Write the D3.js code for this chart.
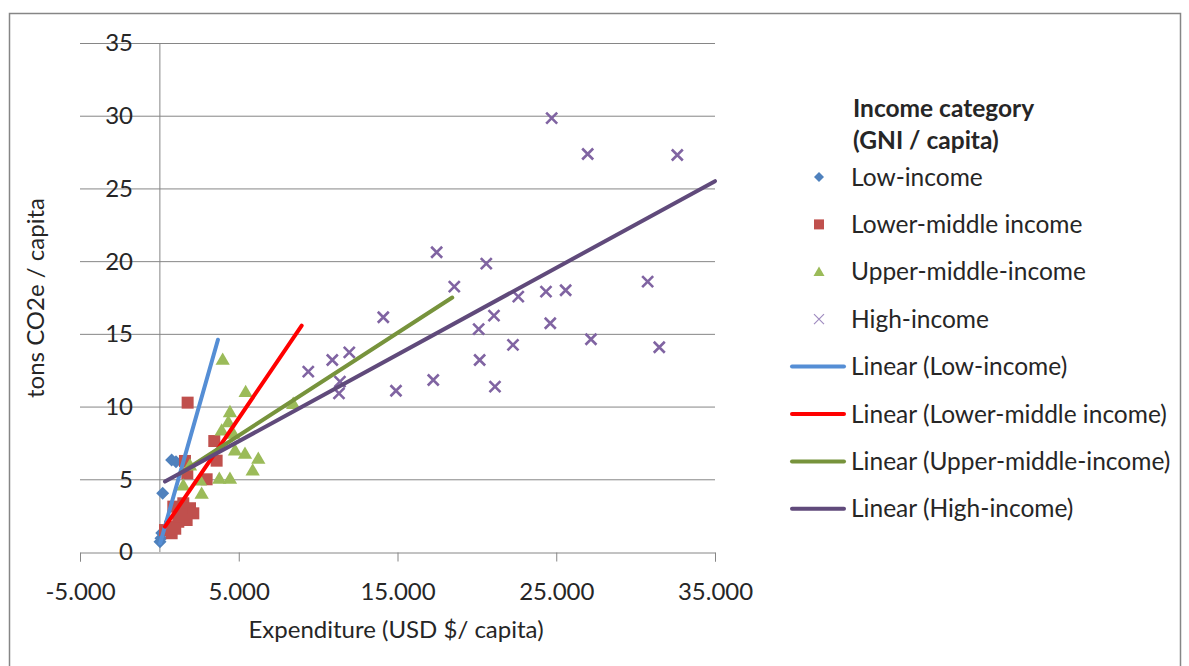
<!DOCTYPE html>
<html>
<head>
<meta charset="utf-8">
<script src="https://cdn.jsdelivr.net/npm/d3@7"></script>
<style>
  body { margin: 0; background: #fff; }
  text { font-family: Lato, "Open Sans", sans-serif; fill: #262626; }
</style>
</head>
<body>
<div class="canvas"></div>
<script>
// data: [expenditure USD/capita, tons CO2e/capita]
const lowIncome = [
    [773, 6.33], [1046, 6.21], [208, 4.04], [40, 0.7], [100, 0.95], [150, 1.3]
];
const lowerMiddle = [
    [1780, 10.27], [3459, 7.63], [3606, 6.28], [1612, 6.26], [1759, 5.41], [2977, 5.0],
    [878, 3.12], [1507, 3.35], [1928, 3.01], [2137, 2.66], [1717, 2.2], [1192, 2.08],
    [668, 1.74], [773, 1.29], [353, 1.51], [1300, 2.6], [1000, 1.6]
];
const upperMiddle = [
    [3987, 13.25], [5434, 11.03], [4447, 9.65], [4342, 8.96], [3924, 8.39], [4657, 8.16],
    [4762, 7.02], [5392, 6.79], [6230, 6.44], [5877, 5.64], [3774, 5.07], [4447, 5.07],
    [1507, 4.61], [2663, 4.04], [2558, 4.95], [1928, 5.98], [8430, 10.22]
];
const highIncome = [
    [9380, 12.4], [10893, 13.2], [11376, 11.71], [11313, 10.91], [11963, 13.73], [14105, 16.14],
    [14904, 11.09], [17253, 11.83], [17467, 20.61], [18577, 18.25], [20113, 15.32], [20175, 13.2],
    [20592, 19.83], [21077, 16.25], [21140, 11.37], [22274, 14.24], [22608, 17.56], [24353, 17.9],
    [24624, 15.73], [24712, 29.83], [25593, 18.0], [26980, 27.37], [27187, 14.63], [30758, 18.59],
    [31490, 14.08], [32624, 27.3]
];

// linear trend lines, start and end as drawn
const trendLow = [[50, 0.6], [3690, 14.6]];
const trendLowerMiddle = [[353, 1.74], [8964, 15.56]];
const trendUpperMiddle = [[1300, 5.4], [18450, 17.5]];
const trendHigh = [[353, 4.84], [35000, 25.5]];

const xTicks = [-5000, 5000, 15000, 25000, 35000];
const yTicks = [0, 5, 10, 15, 20, 25, 30, 35];

const seriesNames = ['Low-income', 'Lower-middle income', 'Upper-middle-income', 'High-income'];

// dimensions
const dims = { width: 1189, height: 666 };

const svg = d3.select('.canvas')
    .append('svg')
    .attr('width', dims.width)
    .attr('height', dims.height);

// chart border
svg.append('rect')
    .attr('x', 9.5).attr('y', 13.5)
    .attr('width', 1171).attr('height', 680)
    .attr('fill', '#fff')
    .attr('stroke', '#868686')
    .attr('stroke-width', 1.5);

// scales
const x = d3.scaleLinear().domain([-5000, 35000]).range([80, 715]);
const y = d3.scaleLinear().domain([0, 35]).range([552, 43]);

const fmt = d => d3.format(',')(d).replace(/,/g, '.').replace('−', '-');

// horizontal gridlines
svg.append('g')
    .selectAll('line')
    .data(yTicks.filter(d => d > 0))
    .enter().append('line')
        .attr('x1', x(-5000)).attr('x2', x(35000))
        .attr('y1', d => y(d) + 0.5).attr('y2', d => y(d) + 0.5)
        .attr('stroke', '#868686');

// x axis (crosses at y = 0)
const xAxis = d3.axisBottom(x)
    .tickValues(xTicks)
    .tickSize(9)
    .tickFormat(fmt);

const xg = svg.append('g')
    .attr('transform', `translate(0, ${y(0) + 0.5})`)
    .call(xAxis);
xg.select('.domain').attr('stroke', '#868686');
xg.selectAll('.tick line').attr('stroke', '#868686');
xg.selectAll('.tick text')
    .attr('y', 30)
    .attr('font-size', 24)
    .attr('font-family', 'Lato')
    .attr('fill', '#262626');

// y axis (crosses at x = 0)
svg.append('line')
    .attr('x1', x(0) + 0.5).attr('x2', x(0) + 0.5)
    .attr('y1', y(35)).attr('y2', y(0))
    .attr('stroke', '#868686');

svg.append('g')
    .selectAll('text')
    .data(yTicks)
    .enter().append('text')
        .attr('x', 133)
        .attr('y', d => y(d))
        .attr('dy', '0.35em')
        .attr('text-anchor', 'end')
        .attr('font-size', 24)
        .text(d => d);

// axis titles
svg.append('text')
    .attr('x', 396).attr('y', 638)
    .attr('text-anchor', 'middle')
    .attr('font-size', 24)
    .text('Expenditure (USD $/ capita)');

svg.append('text')
    .attr('transform', 'translate(44, 298) rotate(-90)')
    .attr('text-anchor', 'middle')
    .attr('font-size', 24)
    .text('tons CO2e / capita');

// marker shapes
const shapes = {
    diamond: s => `M0,${-s}L${s},0L0,${s}L${-s},0Z`,
    square: s => `M${-s},${-s}H${s}V${s}H${-s}Z`,
    triangle: s => `M0,${-s * 1.05}L${s * 1.1},${s * 0.85}L${-s * 1.1},${s * 0.85}Z`,
    cross: s => `M${-s},${-s}L${s},${s}M${-s},${s}L${s},${-s}`
};

const series = [
    { name: seriesNames[0], data: lowIncome, shape: 'diamond', color: '#4F81BD', size: 6.5 },
    { name: seriesNames[1], data: lowerMiddle, shape: 'square', color: '#C0504D', size: 6 },
    { name: seriesNames[2], data: upperMiddle, shape: 'triangle', color: '#9BBB59', size: 6.5 },
    { name: seriesNames[3], data: highIncome, shape: 'cross', color: '#8064A2', size: 5.5 }
];

const trends = [
    { name: 'Linear (' + seriesNames[0] + ')', data: trendLow, color: '#558ED5' },
    { name: 'Linear (' + seriesNames[1] + ')', data: trendLowerMiddle, color: '#FF0000' },
    { name: 'Linear (' + seriesNames[2] + ')', data: trendUpperMiddle, color: '#77933C' },
    { name: 'Linear (' + seriesNames[3] + ')', data: trendHigh, color: '#604A7B' }
];

const drawMarker = (sel, s, size) => {
    if (s.shape === 'cross') {
        sel.attr('d', shapes.cross(size))
            .attr('fill', 'none')
            .attr('stroke', s.color)
            .attr('stroke-width', 2.6);
    } else {
        sel.attr('d', shapes[s.shape](size))
            .attr('fill', s.color);
    }
};

// points
series.forEach(s => {
    svg.append('g')
        .selectAll('path')
        .data(s.data)
        .enter().append('path')
            .attr('transform', d => `translate(${x(d[0])}, ${y(d[1])})`)
            .call(sel => drawMarker(sel, s, s.size));
});

// trend lines
const line = d3.line().x(d => x(d[0])).y(d => y(d[1]));

svg.append('g')
    .selectAll('path')
    .data(trends)
    .enter().append('path')
        .attr('d', d => line(d.data))
        .attr('fill', 'none')
        .attr('stroke', d => d.color)
        .attr('stroke-width', 4)
        .attr('stroke-linecap', 'round');

// legend
const legend = svg.append('g');

legend.append('text')
    .attr('x', 853).attr('y', 117)
    .attr('font-size', 24.5)
    .attr('font-weight', 'bold')
    .text('Income category');
legend.append('text')
    .attr('x', 853).attr('y', 149)
    .attr('font-size', 24.5)
    .attr('font-weight', 'bold')
    .text('(GNI / capita)');

const rowY = i => 177 + i * 47.4;

series.forEach((s, i) => {
    const m = legend.append('path')
        .attr('transform', `translate(819, ${rowY(i)})`)
        .call(sel => drawMarker(sel, s, 5));
    if (s.shape === 'cross') m.attr('stroke-width', 1.2).attr('stroke', '#A08CC0');
    legend.append('text')
        .attr('x', 851).attr('y', rowY(i))
        .attr('dy', '0.35em')
        .attr('font-size', 24.5)
        .text(s.name);
});

trends.forEach((t, i) => {
    legend.append('line')
        .attr('x1', 792).attr('x2', 844)
        .attr('y1', rowY(i + 4)).attr('y2', rowY(i + 4))
        .attr('stroke', t.color)
        .attr('stroke-width', 4)
        .attr('stroke-linecap', 'round');
    legend.append('text')
        .attr('x', 851).attr('y', rowY(i + 4))
        .attr('dy', '0.35em')
        .attr('font-size', 24.5)
        .text(t.name);
});
</script>
</body>
</html>
